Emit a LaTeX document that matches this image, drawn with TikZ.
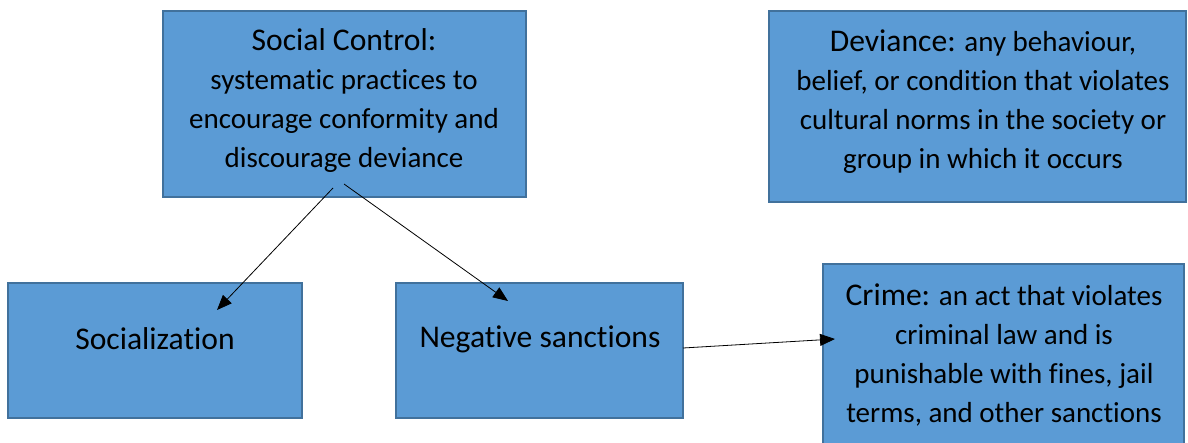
\documentclass[tikz,border=0pt]{standalone}
\usepackage{fontspec}
\setmainfont{Carlito}[Ligatures=NoCommon]
\usetikzlibrary{arrows.meta}

\definecolor{boxfill}{HTML}{5B9BD5}
\definecolor{boxline}{HTML}{41719C}

\tikzset{
    box/.style={draw=boxline, fill=boxfill, line width=1.5pt, inner sep=0pt},
    head/.style={font=\fontsize{31.6}{39}\selectfont},
    body/.style={font=\fontsize{29}{39}\selectfont, align=center},
    link/.style={-{Triangle[length=15pt,width=12pt]}, line width=0.8pt},
}
\newcommand{\hd}[1]{{\fontsize{31.6}{39}\selectfont #1}}

\begin{document}
\begin{tikzpicture}[x=1pt, y=1pt]
    \useasboundingbox (0,0) rectangle (1188,-442);

    % ===== TOP ROW =====
    \node[box, minimum width=363pt, minimum height=186pt] (control) at (344.5,-104) {};
    \node[body] (controltxt) at (344,-101) {\hd{Social Control:}\\ systematic practices to\\ encourage conformity and\\ discourage deviance};

    \node[box, minimum width=417pt, minimum height=191pt] (deviance) at (977.5,-106.5) {};
    \node[body] (deviancetxt) at (983,-102) {\hd{Deviance:} any behaviour,\\ belief, or condition that violates\\ cultural norms in the society or\\ group in which it occurs};

    % ===== BOTTOM ROW =====
    \node[box, minimum width=294pt, minimum height=135pt] (social) at (155,-350.5) {};
    \node[head] (socialtxt) at (155,-339) {Socialization};

    \node[box, minimum width=287pt, minimum height=135pt] (negative) at (539.5,-350.5) {};
    \node[head] (negativetxt) at (540,-339) {Negative sanctions};

    \node[box, minimum width=361pt, minimum height=186pt] (crime) at (1003.5,-357) {};
    \node[body] (crimetxt) at (1004,-355) {\hd{Crime:} an act that violates\\ criminal law and is\\ punishable with fines, jail\\ terms, and other sanctions};

    % arrows
    \coordinate (fromA) at (333,-188);
    \coordinate (toA) at (217,-310);
    \coordinate (fromB) at (344,-184);
    \coordinate (toB) at (508,-301);
    \coordinate (fromC) at (683,-348);
    \coordinate (toC) at (835,-339);

    \draw[link] (fromA) -- (toA);
    \draw[link] (fromB) -- (toB);
    \draw[link] (fromC) -- (toC);
\end{tikzpicture}
\end{document}
